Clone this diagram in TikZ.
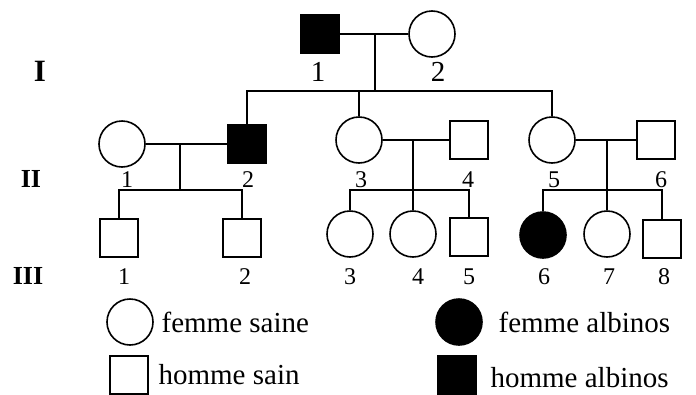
\documentclass[tikz,border=0pt]{standalone}
\usepackage{fontspec}
\setmainfont{Liberation Serif}
\usetikzlibrary{positioning}

\begin{document}
\begin{tikzpicture}[
        x=1pt, y=-1pt,
        line width=1.6pt,
        every node/.style={font=\fontsize{21}{24}\selectfont},
        femme/.style={circle, draw, line width=1.6pt, minimum size=46pt, inner sep=0pt},
        homme/.style={rectangle, draw, line width=1.6pt, minimum size=38pt, inner sep=0pt},
        atteint/.style={fill=black},
        numI/.style={font=\fontsize{29}{31}\selectfont},
        numII/.style={font=\fontsize{24}{26}\selectfont},
        numIII/.style={font=\fontsize{24}{26}\selectfont},
        gen/.style={font=\bfseries\fontsize{26}{28}\selectfont},
        legende/.style={font=\fontsize{29}{31}\selectfont, inner sep=3pt}
    ]
        \useasboundingbox (0,0) rectangle (696,394);

        % Generation I
        \node[gen, font=\bfseries\fontsize{31}{33}\selectfont] (gI) at (40,71) {I};
        \node[homme, atteint] (I1) at (320,34) {};
        \node[femme] (I2) at (432,34) {};
        \node[numI] (nI1) at (318,72) {1};
        \node[numI] (nI2) at (438,72) {2};
        \coordinate (m1) at (375,34);
        \coordinate (s1) at (375,91);

        % Generation II
        \node[gen] (gII) at (31,179) {II};
        \node[femme] (II1) at (122,144) {};
        \node[homme, atteint] (II2) at (247,144) {};
        \node[femme] (II3) at (359,140) {};
        \node[homme] (II4) at (469,140) {};
        \node[femme] (II5) at (552,140) {};
        \node[homme] (II6) at (656,140) {};
        \node[numII] (nII1) at (127,180) {1};
        \node[numII] (nII2) at (248,180) {2};
        \node[numII] (nII3) at (361,180) {3};
        \node[numII] (nII4) at (468,180) {4};
        \node[numII] (nII5) at (554,180) {5};
        \node[numII] (nII6) at (661,180) {6};
        \coordinate (m2) at (180,144);
        \coordinate (c2) at (180,190);
        \coordinate (m3) at (413,140);
        \coordinate (c3) at (413,190);
        \coordinate (m4) at (607,140);
        \coordinate (c4) at (607,190);

        % Generation III
        \node[gen] (gIII) at (28,276) {III};
        \node[homme] (III1) at (119,238) {};
        \node[homme] (III2) at (242,238) {};
        \node[femme] (III3) at (350,234) {};
        \node[femme] (III4) at (413,234) {};
        \node[homme] (III5) at (469,237) {};
        \node[femme, atteint] (III6) at (543,235) {};
        \node[femme] (III7) at (607,234) {};
        \node[homme] (III8) at (662,239) {};
        \node[numIII] (nIII1) at (124,277) {1};
        \node[numIII] (nIII2) at (245,277) {2};
        \node[numIII] (nIII3) at (350,277) {3};
        \node[numIII] (nIII4) at (418,277) {4};
        \node[numIII] (nIII5) at (469,277) {5};
        \node[numIII] (nIII6) at (544,277) {6};
        \node[numIII] (nIII7) at (609,277) {7};
        \node[numIII] (nIII8) at (664,277) {8};

        % Legende
        \node[femme] (lf) at (130,322) {};
        \node[legende, right=4pt of lf] (tlf) {femme saine};
        \node[homme] (lh) at (129,375) {};
        \node[legende, right=6pt of lh] (tlh) {homme sain};
        \node[femme, atteint] (lfa) at (459,322) {};
        \node[legende, right=12pt of lfa] (tlfa) {femme albinos};
        \node[homme, atteint] (lha) at (457,375) {};
        \node[legende, right=10pt of lha, yshift=-3pt] (tlha) {homme albinos};

        % Liens
        \draw (I1) -- (I2);
        \draw (m1) -- (s1);
        \draw (II2.north) |- (s1) -| (II5.north);
        \draw (II3.north) -- (II3.north |- s1);

        \draw (II1) -- (II2);
        \draw (m2) -- (c2);
        \draw (III1.north) |- (c2) -| (III2.north);

        \draw (II3) -- (II4);
        \draw (m3) -- (III4.north);
        \draw (III3.north) |- (c3) -| (III5.north);

        \draw (II5) -- (II6);
        \draw (m4) -- (III7.north);
        \draw (III6.north) |- (c4) -| (III8.north);
    \end{tikzpicture}
\end{document}
